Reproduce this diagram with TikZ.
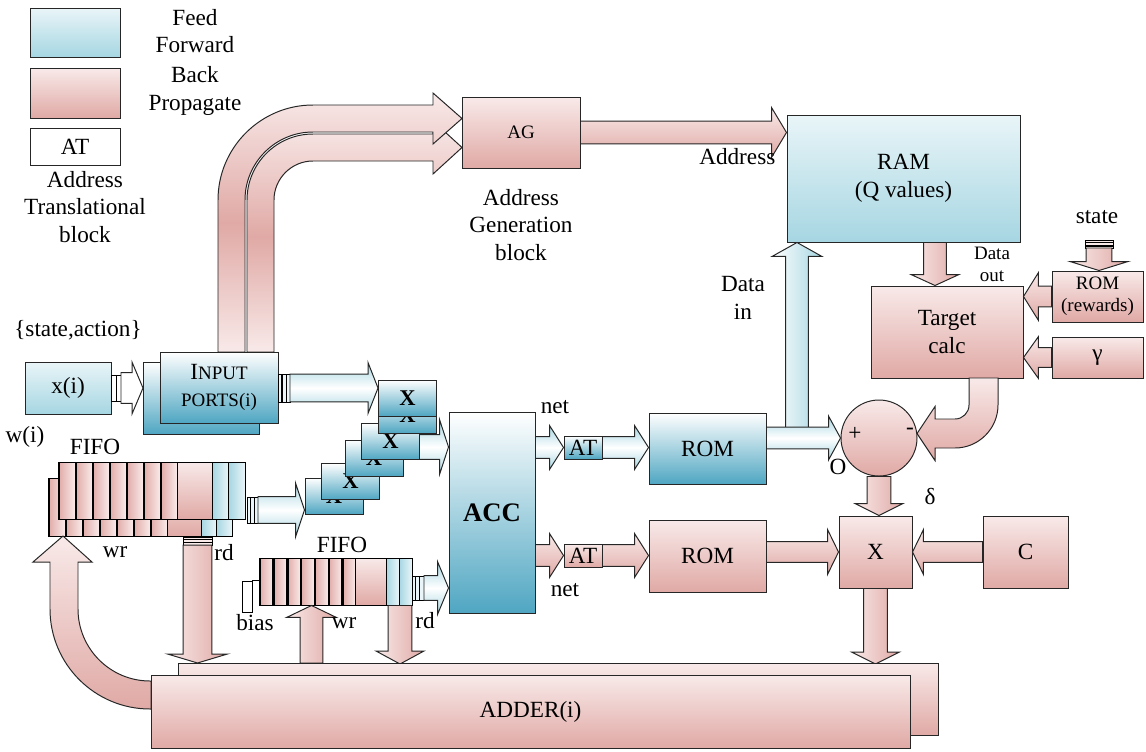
\documentclass[tikz,border=0pt]{standalone}
\usepackage{fontspec}
\IfFontExistsTF{LiberationSerif-Regular.ttf}{%
  \setmainfont{LiberationSerif}[Extension=.ttf, UprightFont=*-Regular, BoldFont=*-Bold,
    ItalicFont=*-Italic, BoldItalicFont=*-BoldItalic]}{}
\usepackage{tikz}
\usetikzlibrary{calc,positioning}
\definecolor{pinkL}{HTML}{F8EAE9}
\definecolor{pinkD}{HTML}{E0A9A5}
\definecolor{blueL}{HTML}{E9F5F8}
\definecolor{blueD}{HTML}{A6D6E2}
\definecolor{ffteal}{HTML}{4FA6C2}
\newcommand{\smalltxt}{\fontsize{13.5}{15.5}\selectfont}
\newcommand{\inplabel}{I{\smalltxt NPUT}\\{\smalltxt PORTS(i)}}
\tikzset{
  lbl/.style={align=center, inner sep=1pt},
  blk/.style={draw=black!85, line width=0.7pt, inner sep=2pt, align=center},
  ff/.style={blk, top color=blueL, bottom color=blueD},
  ffd/.style={blk, top color=white, bottom color=ffteal},
  bp/.style={blk, top color=pinkL, bottom color=pinkD},
  xbox/.style={ffd, sz={58}{36}, font=\bfseries\fontsize{16}{19}\selectfont},
  sz/.style 2 args={minimum width=#1*0.025cm, minimum height=#2*0.025cm},
  fatarrow/.style={draw=black!85, line width=0.7pt},
  bph/.style={top color=pinkL, bottom color=pinkD},
  bpv/.style={left color=pinkL, right color=pinkD},
  bpc/.style={top color=pinkL, bottom color=pinkL, middle color=pinkD},
  ffh/.style={top color=blueD, bottom color=blueD, middle color=white},
  ffv/.style={left color=white, right color=blueD},
}
% block arrow: [style]{from}{to}{shaft half width}{head half width}{head length}, sizes in px
\newcommand{\fatarrow}[6][]{%
  \pgfmathsetmacro{\faw}{#4*0.7087}%
  \pgfmathsetmacro{\faW}{#5*0.7087}%
  \pgfmathsetmacro{\fah}{#6*0.7087}%
  \coordinate (fas) at (#2);
  \coordinate (fae) at (#3);
  \coordinate (fab) at ($(fae)!\fah pt!(fas)$);
  \path[fatarrow,#1] ($(fas)!\faw pt!90:(fae)$) -- ($(fab)!\faw pt!-90:(fas)$)
    -- ($(fab)!\faW pt!-90:(fas)$) -- (fae) -- ($(fab)!\faW pt!90:(fas)$)
    -- ($(fab)!\faw pt!90:(fas)$) -- ($(fas)!\faw pt!-90:(fae)$) -- cycle;
}

\begin{document}
\begin{tikzpicture}[x=0.025cm, y=-0.025cm, font=\fontsize{16.5}{19.5}\selectfont]
  \path[fill=white, use as bounding box] (0,0) rectangle (1146,751);

  % legend
  \node[ff, sz={90}{49}] (legff) at (75,32.5) {};
  \node[bp, sz={90}{50}] (legbp) at (75,93) {};
  \node[blk, fill=white, sz={90}{37}] (legat) at (75,146.5) {AT};
  \node[lbl] (txtff) at (195,31) {Feed\\Forward};
  \node[lbl] (txtbp) at (195,91) {Back\\Propagate};
  \node[lbl] (txtat) at (85,207) {Address\\Translational\\block};

  % address generation
  \path[fatarrow, bpc] (247,352) -- (247,200) .. controls (247,163.6) and (276.6,134) .. (313,134)
    -- (433,134) -- (433,121) -- (462,147.5) -- (433,174) -- (433,161) -- (313,161)
    .. controls (291.5,161) and (274,178.5) .. (274,200) -- (274,352) -- cycle;
  \path[fatarrow, bpc] (218,352) -- (218,200) .. controls (218,147.6) and (260.6,105) .. (313,105)
    -- (433,105) -- (433,93) -- (462,118.5) -- (433,144) -- (433,132) -- (313,132)
    .. controls (275.5,132) and (245,162.5) .. (245,200) -- (245,352) -- cycle;
  \node[bp, sz={118}{71}, font=\smalltxt] (ag) at (521,132.5) {AG};
  \node[lbl] (txtag) at (521,225) {Address\\Generation\\block};
  \node[ff, sz={233}{127}] (ram) at (903.5,178.5) {RAM\\(Q values)};
  \fatarrow[bph]{ag.east}{ram.west |- ag.east}{11.5}{25}{15};
  \node[lbl, anchor=east] (txtaddr) at (777,157) {Address};

  % target calculation
  \node[bp, sz={152}{92}] (tgt) at (947,332) {Target\\calc};
  \node[bp, sz={91}{51}, font=\smalltxt] (romr) at (1097.5,296.5) {ROM\\(rewards)};
  \node[bp, sz={91}{41}] (gam) at (1097.5,357.5) {γ};
  \coordinate (dox) at (935,260);
  \fatarrow[bpv]{dox |- ram.south}{dox |- tgt.north}{11.5}{24}{11};
  \node[lbl, font=\smalltxt] (txtdout) at (992,264) {Data\\out};
  \fatarrow[bph]{romr.west}{tgt.east |- romr.west}{10.5}{24}{15};
  \fatarrow[bph]{gam.west}{tgt.east |- gam.west}{10}{21}{15};
  \node[lbl] (txtstate) at (1097,217) {state};
  \filldraw[fill=pinkL, line width=0.7pt] (1085,240) rectangle (1113,248);
  \draw[line width=1.3pt] (1085,242.5) -- (1113,242.5) (1085,246) -- (1113,246);
  \coordinate (st) at (1099,248);
  \fatarrow[bpv]{st}{st |- romr.north}{13}{29}{9};

  % subtractor
  \path[fatarrow, bph] (969,378) -- (969,405) .. controls (969,412.7) and (962.7,419) .. (955,419)
    -- (935,419) -- (935,406.5) -- (917,433.5) -- (935,460.5) -- (935,448) -- (955,448)
    .. controls (978.7,448) and (998,428.7) .. (998,405) -- (998,378) -- cycle;
  \node[bp, circle, sz={76}{76}] (sub) at (879,438) {};
  \node (plus) at (855,434) {+};
  \node (minus) at (910,431) {-};
  \node (txto) at (838,467) {O};

  % feed forward path
  \node[ffd, sz={117}{71}] (romf) at (707.5,448.5) {ROM};
  \node[ffd, sz={38}{23}, inner sep=0pt] (atf) at (583,447.5) {AT};
  \coordinate (din) at (797,438);
  \fatarrow[ffv]{din}{din |- ram.south}{11.5}{25}{14};
  \fatarrow[ffh]{romf.east |- sub.west}{sub.west}{11}{22}{12};
  \node[lbl] (txtdin) at (743,298) {Data\\in};

  % back propagate path
  \node[bp, sz={117}{72}] (romb) at (707.5,556) {ROM};
  \node[bp, sz={38}{23}, inner sep=0pt] (atb) at (583,555.5) {AT};
  \node[bp, sz={73}{72}] (mul) at (875.5,552) {X};
  \node[bp, sz={85}{72}] (cst) at (1025.5,552) {C};
  \fatarrow[bpv]{sub.south}{sub.south |- mul.north}{12}{24}{12};
  \fatarrow[bph]{romb.east |- mul.west}{mul.west}{10.5}{22.5}{11};
  \fatarrow[bph]{cst.west}{mul.east}{10.5}{22.5}{11};
  \node (txtdelta) at (930,497) {δ};

  % accumulator
  \node[ffd, sz={86}{201}, font=\bfseries\fontsize{19}{22}\selectfont] (acc) at (492,512.5) {ACC};
  \fatarrow[ffh]{acc.east |- atf}{atf.west}{11}{22}{14};
  \fatarrow[ffh]{atf.east}{romf.west |- atf}{11}{22}{14};
  \fatarrow[bph]{acc.east |- atb}{atb.west}{11}{22}{14};
  \fatarrow[bph]{atb.east}{romb.west |- atb}{11}{22}{14};
  \node (txtnet1) at (555,407) {net};
  \node (txtnet2) at (565,590) {net};

  % multipliers
  \coordinate (xo) at (415,447);
  \fatarrow[ffh]{xo}{xo -| acc.west}{12.5}{27.5}{9};
  \foreach \nm/\cx/\cy in {xf/334/496, xe/350.5/481.5, xd/374/458, xc/390.5/441.5, xb/407.5/415, xa/407.5/398}
    \node[xbox] (\nm) at (\cx,\cy) {X};

  % inputs
  \node[lbl] (txtsa) at (78,330) {\{state,action\}};
  \node[ff, sz={86}{52}] (xin) at (68,388) {x(i)};
  \draw[fill=white, line width=0.7pt] (111,375) rectangle (116,401) (116,375) rectangle (121,401);
  \coordinate (xio) at (121,388);
  \fatarrow[fill=white]{xio}{xio -| 143,0}{15.5}{26}{11};
  \node[ffd, sz={116}{72}] (inpb) at (201,398) {};
  \node[ffd, sz={118}{71}] (inp) at (219,387.5) {\inplabel};
  \filldraw[fill=blueL, line width=0.7pt] (278,374) rectangle (290,402);
  \draw[line width=1.4pt] (282,374) -- (282,402) (286.5,374) -- (286.5,402);
  \coordinate (ipo) at (290,388);
  \fatarrow[ffh]{ipo}{ipo -| xa.west}{14}{25.5}{10};

  % weight FIFO
  \foreach \i in {0,...,6} {
    \shadedraw[left color=pinkD, right color=pinkL, line width=0.5pt] ({48+17*\i},478) rectangle ++(17,58);
    \draw[line width=1.3pt] ({49+17*\i},478) -- ++(0,58);
  }
  \shadedraw[top color=pinkL, bottom color=pinkD, line width=0.5pt] (167,478) rectangle (201,536);
  \shadedraw[left color=blueD, right color=blueL, line width=0.5pt] (201,478) rectangle (216.5,536);
  \shadedraw[left color=blueD, right color=blueL, line width=0.5pt] (216.5,478) rectangle (232,536);
  \node[draw, line width=0.7pt, sz={184}{58}, inner sep=0pt] (fifowb) at (140,507) {};
  \foreach \i in {0,...,6} {
    \shadedraw[left color=pinkD, right color=pinkL, line width=0.5pt] ({58+17*\i},462) rectangle ++(17,57);
    \draw[line width=1.3pt] ({59+17*\i},462) -- ++(0,57);
  }
  \shadedraw[top color=pinkL, bottom color=pinkD, line width=0.5pt] (177,462) rectangle (212,519);
  \shadedraw[left color=blueD, right color=blueL, line width=0.5pt] (212,462) rectangle (228.5,519);
  \shadedraw[left color=blueD, right color=blueL, line width=0.5pt] (228.5,462) rectangle (245,519);
  \node[draw, line width=0.7pt, sz={187}{57}, inner sep=0pt] (fifow) at (151.5,490.5) {};
  \node (txtfifow) at (95,447) {FIFO};
  \node (txtw) at (25,437) {w(i)};
  \filldraw[fill=blueL, line width=0.7pt] (247,497) rectangle (258,523);
  \draw[line width=1.4pt] (250.5,497) -- (250.5,523) (254.5,497) -- (254.5,523);
  \coordinate (fwo) at (258,510);
  \fatarrow[ffh]{fwo}{fwo -| xf.west}{13.5}{27}{9};

  % bias FIFO
  \foreach \i in {0,...,6} {
    \shadedraw[left color=pinkD, right color=pinkL, line width=0.5pt] ({259+13.8*\i},558) rectangle ++(13.8,47);
    \draw[line width=1.3pt] ({260+13.8*\i},558) -- ++(0,47);
  }
  \shadedraw[top color=pinkL, bottom color=pinkD, line width=0.5pt] (355.6,558) rectangle (386,605);
  \shadedraw[left color=blueD, right color=blueL, line width=0.5pt] (386,558) rectangle (399,605);
  \shadedraw[left color=blueD, right color=blueL, line width=0.5pt] (399,558) rectangle (412,605);
  \node[draw, line width=0.7pt, sz={153}{47}, inner sep=0pt] (fifob) at (335.5,581.5) {};
  \node[draw, fill=white, line width=0.7pt, sz={10}{31}, inner sep=0pt] (biasb) at (247,596.5) {};
  \draw[line width=0.7pt] (biasb.north east) -- (biasb.north east -| fifob.west);
  \node (txtfifob) at (342,545) {FIFO};
  \filldraw[fill=blueL, line width=0.7pt] (412,576) rectangle (424,600);
  \draw[line width=1.4pt] (415.5,576) -- (415.5,600) (419.5,576) -- (419.5,600);
  \coordinate (bfo) at (424,588);
  \fatarrow[ffh]{bfo}{bfo -| acc.west}{12.5}{26.5}{11};

  % adder
  \filldraw[fill=pinkL, line width=0.7pt] (183,537) rectangle (212,545);
  \draw[line width=1.3pt] (183,539.5) -- (212,539.5) (183,542.5) -- (212,542.5);
  \coordinate (fwr) at (197.5,545);
  \fatarrow[bpv]{fwr}{fwr |- 0,663}{14.5}{30}{9};
  \coordinate (bwr) at (311.5,600);
  \fatarrow[bpv]{bwr |- 0,663}{bwr |- fifob.south}{11.5}{25}{12};
  \coordinate (brd) at (400,605);
  \fatarrow[bpv]{brd |- fifob.south}{brd |- 0,664}{12}{24}{13};
  \fatarrow[bpv]{mul.south}{mul.south |- 0,664}{12}{24}{12};
  \node[bp, sz={760}{72}] (addb) at (558,699) {};
  \path[fatarrow, bph] (151,681) -- (150,681) .. controls (110.3,681) and (78,648.7) .. (78,609)
    -- (78,562) -- (92,562) -- (63,536) -- (33,562) -- (50,562) -- (50,609)
    .. controls (50,664.2) and (94.8,709) .. (150,709) -- (151,709) -- cycle;
  \node[bp, sz={759}{73}] (add) at (530.5,711.5) {ADDER(i)};
  \node (txtwr1) at (115,552) {wr};
  \node (txtrd1) at (224,553) {rd};
  \node (txtbias) at (255,623) {bias};
  \node (txtwr2) at (344,623) {wr};
  \node (txtrd2) at (425,621) {rd};
\end{tikzpicture}
\end{document}
